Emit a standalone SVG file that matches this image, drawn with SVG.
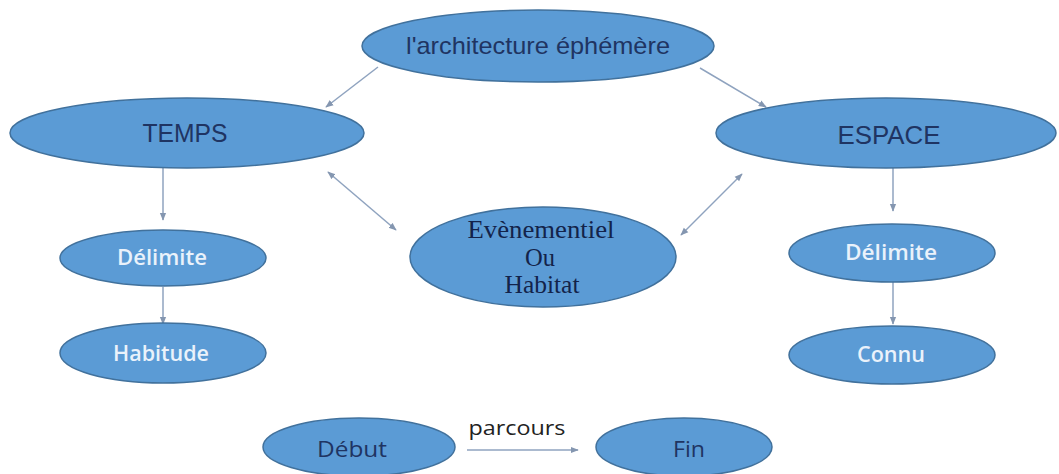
<svg xmlns="http://www.w3.org/2000/svg" width="1059" height="474" viewBox="0 0 1059 474">
<defs>
<marker id="ah" viewBox="0 0 10 10" refX="9" refY="5" markerWidth="8" markerHeight="8" orient="auto-start-reverse" markerUnits="userSpaceOnUse">
<path d="M0,1 L10,5 L0,9 Z" fill="#8496b0"/>
</marker>
</defs>
<style>
.n{fill:#5b9bd5;stroke:#41719c;stroke-width:1.5}
.c{stroke:#8fa3bf;stroke-width:1.5;fill:none;marker-end:url(#ah)}
.d{marker-start:url(#ah)}
.a{font-family:"Liberation Sans",Arial,sans-serif;fill:#1f3462;text-anchor:middle}
.s{font-family:"Liberation Serif","Times New Roman",serif;fill:#13234a;text-anchor:middle;font-size:25px}
.w{font-family:"Open Sans","Noto Sans",sans-serif;fill:#eaf2fb;text-anchor:middle;font-size:21px;font-weight:600}
.k{font-family:"Open Sans","Noto Sans",sans-serif;fill:#1f3462;text-anchor:middle;font-size:21px}
</style>
<rect width="1059" height="474" fill="#ffffff"/>
<g id="connectors">
<line class="c" x1="378" y1="67" x2="326" y2="107"/>
<line class="c" x1="700" y1="68" x2="766" y2="107"/>
<line class="c d" x1="328" y1="172" x2="396" y2="230"/>
<line class="c d" x1="742" y1="174" x2="681" y2="235"/>
<line class="c" x1="163" y1="168" x2="163" y2="220"/>
<line class="c" x1="163" y1="287" x2="163" y2="324"/>
<line class="c" x1="893" y1="168" x2="893" y2="211"/>
<line class="c" x1="893" y1="282" x2="893" y2="324"/>
<line class="c" x1="467" y1="450" x2="578" y2="450"/>
</g>
<g id="n-archi">
<ellipse class="n" cx="538" cy="46" rx="176" ry="36"/>
<text class="a" x="538" y="54" font-size="24" textLength="264" lengthAdjust="spacingAndGlyphs">l'architecture éphémère</text>
</g>
<g id="n-temps">
<ellipse class="n" cx="187" cy="133" rx="177" ry="35"/>
<text class="a" x="185" y="142" font-size="25" textLength="85" lengthAdjust="spacingAndGlyphs">TEMPS</text>
</g>
<g id="n-espace">
<ellipse class="n" cx="886" cy="133" rx="170" ry="35"/>
<text class="a" x="889" y="144" font-size="25" textLength="103" lengthAdjust="spacingAndGlyphs">ESPACE</text>
</g>
<g id="n-event">
<ellipse class="n" cx="543" cy="257" rx="133" ry="50"/>
<text class="s" x="541" y="238" textLength="147" lengthAdjust="spacingAndGlyphs">Evènementiel</text>
<text class="s" x="540" y="266" textLength="30" lengthAdjust="spacingAndGlyphs">Ou</text>
<text class="s" x="542" y="293" textLength="75" lengthAdjust="spacingAndGlyphs">Habitat</text>
</g>
<g id="n-delim-l">
<ellipse class="n" cx="163" cy="258" rx="103" ry="28"/>
<text class="w" x="162" y="265" textLength="90" lengthAdjust="spacingAndGlyphs">Délimite</text>
</g>
<g id="n-habitude">
<ellipse class="n" cx="163" cy="353" rx="103" ry="30"/>
<text class="w" x="161" y="361" textLength="96" lengthAdjust="spacingAndGlyphs">Habitude</text>
</g>
<g id="n-delim-r">
<ellipse class="n" cx="892" cy="253" rx="103" ry="29"/>
<text class="w" x="891" y="260" textLength="92" lengthAdjust="spacingAndGlyphs">Délimite</text>
</g>
<g id="n-connu">
<ellipse class="n" cx="892" cy="355" rx="103" ry="29"/>
<text class="w" x="891" y="362" textLength="68" lengthAdjust="spacingAndGlyphs">Connu</text>
</g>
<g id="n-debut">
<ellipse class="n" cx="359" cy="447" rx="96" ry="29"/>
<text class="k" x="352" y="457" textLength="70" lengthAdjust="spacingAndGlyphs">Début</text>
</g>
<g id="n-fin">
<ellipse class="n" cx="684" cy="447" rx="88" ry="29"/>
<text class="k" x="689" y="457" textLength="32" lengthAdjust="spacingAndGlyphs">Fin</text>
</g>
<text x="517" y="435" font-family="'Open Sans','Noto Sans',sans-serif" font-size="20" fill="#222222" text-anchor="middle" textLength="97" lengthAdjust="spacingAndGlyphs">parcours</text>
</svg>
